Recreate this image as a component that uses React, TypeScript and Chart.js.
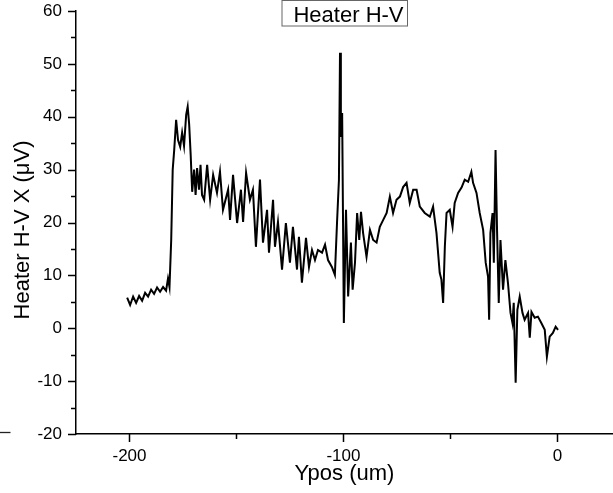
import { useEffect, useRef } from 'react';
import { Chart, registerables } from 'chart.js';

Chart.register(...registerables);

// Ypos (um)
const xPos = [
  -201.1, -199.7, -198.3, -196.9, -195.5, -194.1, -192.7, -191.3, -189.9, -188.5,
  -187.1, -185.7, -184.3, -182.9, -182.0, -181.3, -180.5, -179.8, -179.1, -178.2,
  -177.3, -176.3, -175.4, -174.5, -173.5, -172.8, -172.1, -171.4, -170.7, -169.8,
  -169.1, -168.4, -167.5, -166.8, -166.1, -165.1, -163.7, -162.3, -160.9, -159.1,
  -157.7, -156.3, -153.9, -153.0, -151.6, -149.7, -147.9, -146.9, -145.5, -143.7,
  -142.3, -140.9, -139.0, -137.6, -135.7, -134.8, -132.9, -132.0, -130.6, -128.7,
  -126.9, -125.0, -123.6, -121.7, -120.8, -119.4, -117.5, -116.1, -114.7, -113.3,
  -111.9, -110.0, -108.6, -107.2, -105.4, -104.0, -103.0, -102.1, -101.6, -101.2,
  -100.6, -99.8, -98.8, -97.8, -96.5, -95.7, -94.6, -93.6, -92.6, -91.8,
  -90.8, -89.2, -87.6, -86.1, -84.5, -83.0, -81.4, -79.8, -78.3, -76.8,
  -75.2, -73.6, -72.1, -70.5, -69.0, -67.4, -65.8, -64.3, -62.0, -59.6,
  -58.1, -56.5, -55.0, -54.2, -53.4, -52.6, -51.8, -50.3, -49.0, -48.0,
  -46.4, -44.8, -43.3, -41.7, -40.2, -39.4, -37.8, -36.3, -34.7, -33.5,
  -32.4, -31.9, -31.3, -30.3, -29.7, -28.9, -28.2, -27.4, -26.6, -25.4,
  -24.3, -23.1, -21.9, -21.0, -20.4, -19.5, -18.7, -17.6, -16.3, -15.3,
  -13.7, -12.9, -12.1, -10.6, -9.1, -7.5, -5.9, -4.9, -3.6, -2.1,
  -0.8, 0.3,
];

// Heater H-V X (uV)
const signal = [
  5.8, 4.4, 6.0, 4.8, 6.1, 5.2, 6.7, 6.0, 7.3, 6.5,
  7.7, 6.9, 7.8, 7.1, 9.4, 7.8, 16.7, 30.0, 33.7, 39.4,
  35.6, 34.3, 37.0, 34.5, 40.4, 41.9, 38.5, 32.8, 25.8, 30.0,
  25.2, 30.3, 26.2, 30.9, 25.2, 24.3, 30.9, 24.3, 29.0, 25.6,
  29.6, 22.4, 26.2, 20.5, 29.0, 19.9, 26.2, 20.1, 29.4, 24.3,
  26.2, 15.4, 28.1, 16.2, 22.4, 14.3, 24.3, 15.4, 20.1, 11.1,
  19.9, 12.4, 19.2, 11.1, 17.3, 8.6, 17.1, 11.6, 14.8, 12.9,
  14.8, 14.3, 15.8, 12.9, 11.6, 10.1, 19.9, 28.1, 52.1, 36.2,
  40.7, 1.0, 22.4, 6.0, 16.2, 7.3, 12.4, 21.8, 16.7, 22.0,
  18.0, 13.5, 18.6, 16.7, 16.2, 19.2, 20.5, 21.8, 24.9, 21.8,
  24.3, 24.9, 26.7, 27.5, 23.7, 26.2, 26.2, 23.0, 21.8, 21.1,
  23.0, 18.0, 10.5, 9.2, 4.8, 15.4, 21.8, 22.4, 19.2, 23.7,
  25.6, 26.6, 28.1, 27.7, 29.6, 27.5, 25.6, 21.8, 18.6, 12.4,
  9.7, 1.6, 18.0, 21.8, 12.4, 33.7, 18.6, 4.8, 16.7, 7.3,
  12.9, 8.6, 2.9, 1.0, 4.8, -10.3, 3.5, 6.0, 2.9, 1.6,
  2.9, -1.8, 3.1, 2.0, 2.2, 1.0, -0.3, -5.4, -1.6, -0.9,
  0.3, -0.3,
];

const xMajorTicks = [-200, -100, 0];
const xMinorTicks = [-150, -50];
const yMajorTicks = [-20, -10, 0, 10, 20, 30, 40, 50, 60];
const yMinorTicks = [-15, -5, 5, 15, 25, 35, 45, 55];

const chartTitle = 'Heater H-V';
const xTitle = 'Ypos (um)';
const yTitle = 'Heater H-V X (\u03bcV)';

const FONT = '"Liberation Sans", Arial, Helvetica, sans-serif';

const decorPlugin = {
  id: 'decor',
  afterDraw(chart: any) {
    const ctx = chart.ctx as CanvasRenderingContext2D;
    const xs = chart.scales.x;
    const ys = chart.scales.y;
    const area = chart.chartArea;
    ctx.save();
    ctx.strokeStyle = '#000';
    ctx.lineWidth = 1.5;
    ctx.beginPath();
    for (const v of xMajorTicks) {
      const p = Math.round(xs.getPixelForValue(v)) + 0.5;
      ctx.moveTo(p, area.bottom);
      ctx.lineTo(p, area.bottom + 8);
    }
    for (const v of xMinorTicks) {
      const p = Math.round(xs.getPixelForValue(v)) + 0.5;
      ctx.moveTo(p, area.bottom);
      ctx.lineTo(p, area.bottom + 5);
    }
    for (const v of yMajorTicks) {
      const p = Math.round(ys.getPixelForValue(v)) + 0.5;
      ctx.moveTo(area.left, p);
      ctx.lineTo(area.left - 8, p);
    }
    for (const v of yMinorTicks) {
      const p = Math.round(ys.getPixelForValue(v)) + 0.5;
      ctx.moveTo(area.left, p);
      ctx.lineTo(area.left - 5, p);
    }
    ctx.stroke();

    ctx.beginPath();
    ctx.strokeStyle = '#222';
    ctx.lineWidth = 1.3;
    ctx.moveTo(0, 432.5);
    ctx.lineTo(10.5, 432.5);
    ctx.stroke();

    ctx.fillStyle = '#fff';
    ctx.fillRect(282, 0, 126, 26);
    ctx.strokeStyle = '#666';
    ctx.lineWidth = 1;
    ctx.strokeRect(282, 0.5, 125.5, 25.5);
    ctx.fillStyle = '#000';
    ctx.font = `22px ${FONT}`;
    ctx.textAlign = 'center';
    ctx.textBaseline = 'alphabetic';
    ctx.fillText(chartTitle, 348.5, 21.5);

    ctx.fillText(xTitle, (area.left + area.right) / 2, 479.5);

    ctx.save();
    ctx.translate(28.5, 230);
    ctx.rotate(-Math.PI / 2);
    ctx.fillText(yTitle, 0, 0);
    ctx.restore();

    ctx.restore();
  },
};

export default function App() {
  const ref = useRef<HTMLCanvasElement | null>(null);

  useEffect(() => {
    if (!ref.current) return;
    const chart = new Chart(ref.current, {
      type: 'line',
      data: {
        datasets: [
          {
            data: xPos.map((x, i) => ({ x, y: signal[i] })),
            borderColor: '#000',
            borderWidth: 2,
            pointRadius: 0,
            fill: false,
            tension: 0,
          },
        ],
      },
      options: {
        animation: false,
        responsive: false,
        devicePixelRatio: 1,
        layout: { padding: { top: 0, right: 0, left: 0, bottom: 0 } },
        plugins: {
          legend: { display: false },
          title: { display: false },
          tooltip: { enabled: false },
        },
        scales: {
          x: {
            type: 'linear',
            min: -225,
            max: 26,
            afterBuildTicks: (s: any) => {
              s.ticks = xMajorTicks.map((v) => ({ value: v }));
            },
            afterFit: (s: any) => {
              s.height = 59;
            },
            grid: { display: false, drawTicks: false },
            border: { display: true, color: '#000', width: 1.5 },
            ticks: {
              color: '#000',
              font: { family: FONT, size: 17 },
              padding: 12,
              maxRotation: 0,
              autoSkip: false,
            },
          },
          y: {
            type: 'linear',
            min: -20,
            max: 60,
            afterBuildTicks: (s: any) => {
              s.ticks = yMajorTicks.map((v) => ({ value: v }));
            },
            afterFit: (s: any) => {
              s.width = 76;
              s.paddingTop = 11;
              s.paddingBottom = 0;
            },
            grid: { display: false, drawTicks: false },
            border: { display: true, color: '#000', width: 1.5 },
            ticks: {
              color: '#000',
              font: { family: FONT, size: 17 },
              padding: 14,
              autoSkip: false,
            },
          },
        },
      },
      plugins: [decorPlugin],
    });
    return () => chart.destroy();
  }, []);

  return (
    <div style={{ position: 'fixed', left: 0, top: 0, width: 613, height: 493, background: '#fff' }}>
      <canvas ref={ref} width={613} height={493} style={{ display: 'block' }} />
    </div>
  );
}
